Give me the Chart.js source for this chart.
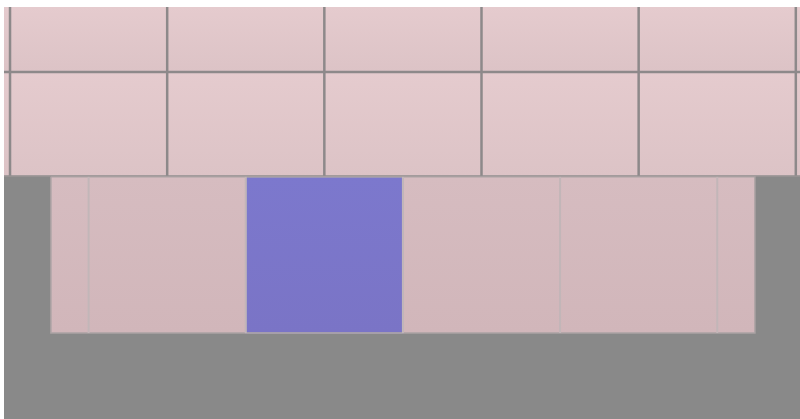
<!DOCTYPE html>
<html>
<head>
<meta charset="utf-8">
<script src="https://cdn.jsdelivr.net/npm/chart.js@4.4.1/dist/chart.umd.min.js"></script>
<style>
  html, body { margin: 0; padding: 0; background: #ffffff; }
  canvas { display: block; }
</style>
</head>
<body>
<canvas id="wall" width="800" height="419"></canvas>
<script>
// tile courses, measured in cm from the top-left joint
const courseNames = ['Upper course', 'Middle course', 'Lower course'];
const courseTop = [0, 12.4, 32.4];
const courseBottom = [12.4, 32.2, 62.2];
const courseLeft = [-1.2, -1.2, 7.8];
const courseRight = [151, 151, 142.2];
const upperJoints = [0, 30, 60, 90, 120, 150];
const lowerJoints = [15, 45, 75, 105, 135];
const blueTile = [45, 75];

function box(x0, x1, y0, y1) {
  return [
    {x: x0, y: y0}, {x: x1, y: y0}, {x: x1, y: y1},
    {x: x0, y: y1}, {x: x0, y: y0}
  ]
}

function shade(top, bottom, c1, c2) {
  return function(ctx) {
    const chart = ctx.chart
    if (!chart.chartArea) return c1
    const y = chart.scales.y
    const g = chart.ctx.createLinearGradient(0, y.getPixelForValue(top), 0, y.getPixelForValue(bottom))
    g.addColorStop(0, c1)
    g.addColorStop(1, c2)
    return g
  }
}

function tileSet(label, points, fill) {
  return {
    label: label,
    data: points,
    showLine: true,
    fill: 'shape',
    backgroundColor: fill,
    borderWidth: 0,
    pointRadius: 0,
    order: 2
  }
}

function jointSet(points, color, width) {
  return {
    label: 'joint',
    data: points,
    showLine: true,
    fill: false,
    borderColor: color,
    borderWidth: width,
    pointRadius: 0,
    order: 1
  }
}

const datasets = []

courseNames.forEach(function(name, i) {
  const joints = i < 2 ? upperJoints : lowerJoints
  const edges = [courseLeft[i]].concat(joints, [courseRight[i]])
  for (let k = 0; k < edges.length - 1; k++) {
    let fill
    if (i == 2 && edges[k] == blueTile[0]) {
      fill = shade(courseTop[i], courseBottom[i], '#7c78cd', '#7a74c6')
    } else if (i == 2) {
      fill = shade(courseTop[i], courseBottom[i], '#d6bcc0', '#d1b6ba')
    } else {
      fill = shade(courseTop[i], courseBottom[i], '#e5cbce', '#dcc3c6')
    }
    datasets.push(tileSet(name, box(edges[k], edges[k + 1], courseTop[i], courseBottom[i]), fill))
  }
})

// grout of the two upper courses
datasets.push(jointSet([{x: courseLeft[0], y: courseBottom[0]}, {x: courseRight[0], y: courseBottom[0]}], '#8d898a', 2.5))
upperJoints.forEach(function(x) {
  datasets.push(jointSet([{x: x, y: courseTop[0]}, {x: x, y: courseBottom[1]}], '#8d898a', 2.5))
})
datasets.push(jointSet([{x: courseLeft[1], y: courseBottom[1]}, {x: courseRight[1], y: courseBottom[1]}], '#a39b9c', 1.5))

// grout of the lower course
lowerJoints.forEach(function(x) {
  datasets.push(jointSet([{x: x, y: courseTop[2]}, {x: x, y: courseBottom[2]}], '#c2b6b8', 2))
})
datasets.push(jointSet(box(courseLeft[2], courseRight[2], courseTop[2], courseBottom[2]), '#aba3a4', 1.5))
datasets.push(jointSet(box(blueTile[0], blueTile[1], courseTop[2], courseBottom[2]), '#9e9bc4', 1.5))

const backdrop = {
  id: 'backdrop',
  beforeDraw: function(chart) {
    const a = chart.chartArea
    chart.ctx.save()
    chart.ctx.fillStyle = '#898989'
    chart.ctx.fillRect(a.left, a.top, a.right - a.left, a.bottom - a.top)
    chart.ctx.restore()
  }
}

new Chart(document.getElementById('wall'), {
  type: 'scatter',
  data: { datasets: datasets },
  options: {
    responsive: false,
    animation: false,
    layout: { padding: { top: 7, left: 4, right: 0, bottom: 0 } },
    plugins: { legend: { display: false }, tooltip: { enabled: false } },
    scales: {
      x: { type: 'linear', min: -1.15, max: 150.8, display: false },
      y: { type: 'linear', min: 0, max: 78.6, reverse: true, display: false }
    }
  },
  plugins: [backdrop]
})
</script>
</body>
</html>
